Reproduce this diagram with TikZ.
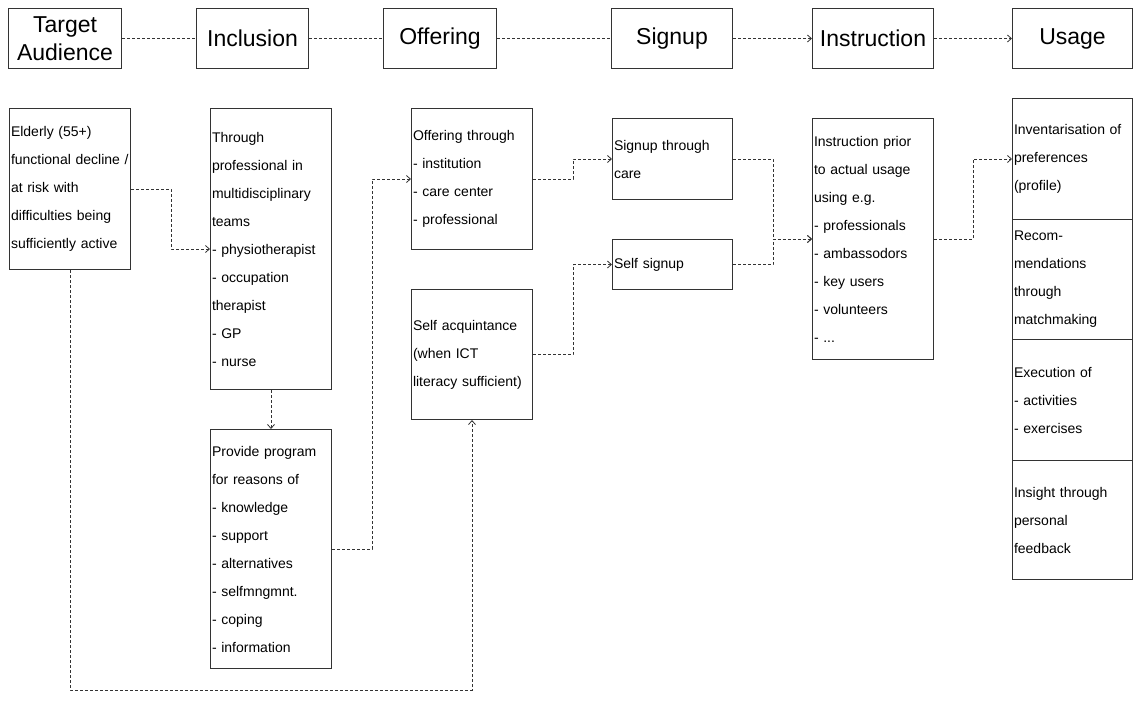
\documentclass[tikz,border=0pt]{standalone}
\usepackage{fontspec}
\setmainfont{Liberation Sans}
\usetikzlibrary{arrows.meta}
\begin{document}
\begin{tikzpicture}[x=1pt, y=-1pt,
  header/.style={draw=black!80, line width=1pt, rectangle, anchor=north west, minimum height=60pt, inner sep=0pt, align=center, font=\fontsize{23}{28}\selectfont},
  box/.style={draw=black!80, line width=1pt, rectangle, anchor=north west, inner xsep=1.5pt, inner ysep=0pt, align=left, font=\fontsize{14}{28}\selectfont},
  link/.style={black!80, line width=0.8pt, dash pattern=on 3pt off 2pt, >={Straight Barb[length=4pt,width=7pt]}}]
\useasboundingbox (0,0) rectangle (1136,702);
\node[header, minimum width=113pt] (target) at (8,8) {Target\\Audience};
\node[header, minimum width=112pt] (inclusion) at (196,8) {Inclusion};
\node[header, minimum width=113pt] (offering) at (383,8) {Offering};
\node[header, minimum width=121pt] (signup) at (611,8) {Signup};
\node[header, minimum width=121pt] (instruction) at (812,8) {Instruction};
\node[header, minimum width=120pt] (usage) at (1012,8) {Usage};
\draw[link] (target.east) -- (inclusion.west);
\draw[link] (inclusion.east) -- (offering.west);
\draw[link] (offering.east) -- (signup.west);
\draw[link, ->] (signup.east) -- (instruction.west);
\draw[link, ->] (instruction.east) -- (usage.west);
\node[box, text width=118pt, minimum height=161pt] (elderly) at (9,108) {Elderly (55+)\\functional decline /\\at risk with\\difficulties being\\sufficiently active};
\node[box, text width=118pt, minimum height=281pt] (through) at (210,108) {Through\\professional in\\multidisciplinary\\teams\\- physiotherapist\\- occupation\\therapist\\- GP\\- nurse};
\node[box, text width=118pt, minimum height=239pt] (provide) at (210,429) {Provide program\\for reasons of\\- knowledge\\- support\\- alternatives\\- selfmngmnt.\\- coping\\- information};
\node[box, text width=118pt, minimum height=141pt] (offerVia) at (411,108) {Offering through\\- institution\\- care center\\- professional};
\node[box, text width=118pt, minimum height=130pt] (selfAcq) at (411,289) {Self acquintance\\(when ICT\\literacy sufficient)};
\node[box, text width=117pt, minimum height=81pt] (signupCare) at (612,118) {Signup through\\care};
\node[box, text width=117pt, minimum height=50pt] (selfSignup) at (612,239) {Self signup};
\node[box, text width=118pt, minimum height=241pt] (instrPrior) at (812,118) {Instruction prior\\to actual usage\\using e.g.\\- professionals\\- ambassodors\\- key users\\- volunteers\\- ...};
\node[box, text width=117pt, minimum height=121pt] (profile) at (1012,98) {Inventarisation of\\preferences\\(profile)};
\node[box, text width=117pt, minimum height=120pt] (recommend) at (1012,219) {Recom-\\mendations\\through\\matchmaking};
\node[box, text width=117pt, minimum height=121pt] (execution) at (1012,339) {Execution of\\- activities\\- exercises};
\node[box, text width=117pt, minimum height=119pt] (insight) at (1012,460) {Insight through\\personal\\feedback};
\coordinate (loopLow) at (0,690);
\draw[link, ->] (elderly.east) -- ++(40,0) |- (through.west);
\draw[link, ->] (through.south) -- (provide.north);
\draw[link, ->] (provide.east) -- ++(40,0) |- (offerVia.west);
\draw[link, ->] (offerVia.east) -- ++(40,0) |- (signupCare.west);
\draw[link, ->] (selfAcq.east) -- ++(40,0) |- (selfSignup.west);
\draw[link, ->] (signupCare.east) -- ++(40,0) |- (instrPrior.west);
\draw[link, ->] (selfSignup.east) -- ++(40,0) |- (instrPrior.west);
\draw[link, ->] (instrPrior.east) -- ++(39,0) |- (profile.west);
\draw[link, ->] (elderly.south) -- (elderly.south |- loopLow) -| (selfAcq.south);
\end{tikzpicture}
\end{document}
